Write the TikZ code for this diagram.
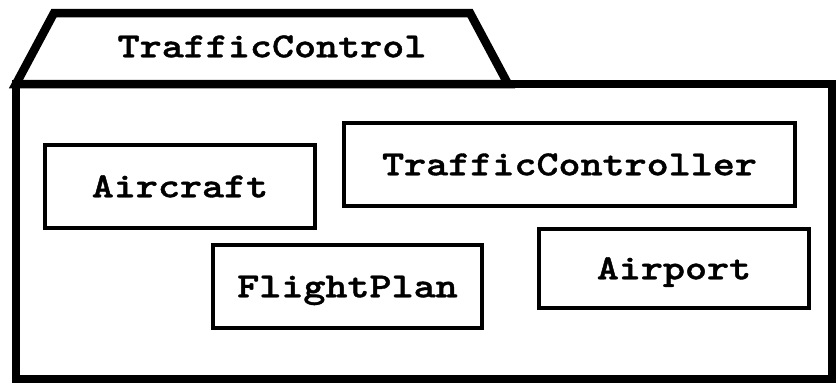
\documentclass[tikz,border=0pt]{standalone}
\usepackage{graphicx}
\usepackage{fontspec}
\newfontfamily\umlfont{lmmonolt10-bold.otf}[FakeBold=1.0]
\newcommand{\pkglbl}[1]{\scalebox{1}[0.84]{#1}}
\begin{document}
\begin{tikzpicture}[x=1pt,y=-1pt,
  lbl/.style={font=\umlfont\fontsize{42}{44}\selectfont, text height=21.5pt, text depth=0pt, inner sep=0pt},
  classbox/.style={lbl, draw, line width=4pt, minimum height=83pt},
  pkgline/.style={line width=8.5pt, line join=miter}]
\useasboundingbox (0,0) rectangle (838,384);
% package tab
\coordinate (tabbl) at (16,84);
\coordinate (tabtl) at (54,13);
\coordinate (tabtr) at (470,13);
\coordinate (tabbr) at (508,84);
\draw[pkgline] (tabbl) -- (tabtl) -- (tabtr) -- (tabbr) -- cycle;
\node[lbl] (title) at (272,46.5) {\pkglbl{TrafficControl}};
% package body
\node[draw, pkgline, minimum width=816pt, minimum height=295pt, inner sep=0pt] (body) at (424,231.5) {};
% classes
\node[classbox, minimum width=270pt] (aircraft) at (180,186.5) {\pkglbl{Aircraft}};
\node[classbox, minimum width=451pt] (controller) at (569.5,164.5) {\pkglbl{TrafficController}};
\node[classbox, minimum width=269pt] (flightplan) at (347.5,286.5) {\pkglbl{FlightPlan}};
\node[classbox, minimum width=270pt, minimum height=79pt] (airport) at (674,268.5) {\pkglbl{Airport}};
\end{tikzpicture}
\end{document}
